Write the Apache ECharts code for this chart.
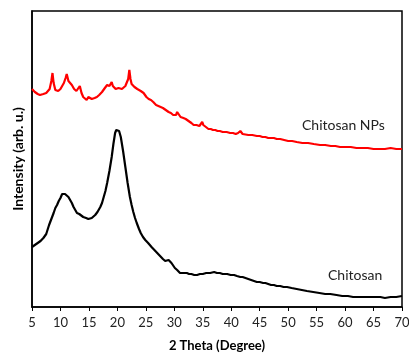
<!DOCTYPE html>
<html><head><meta charset="utf-8">
<script src="https://cdn.jsdelivr.net/npm/echarts@6/dist/echarts.min.js"></script>
<style>html,body{margin:0;padding:0;background:#fff}#c{width:409px;height:353px}</style>
</head><body><div id="c"></div>
<script>
var xTicks = [5,10,15,20,25,30,35,40,45,50,55,60,65,70];
var chitosanNPs = [[5,218],[5.3,216],[5.5,215],[5.8,217],[6,213],[6.4,212],[6.7,214],[7,213],[7.5,214],[7.8,216],[8.1,218],[8.4,226],[8.6,234],[8.8,224],[9.1,217],[9.4,219],[9.6,216],[10,218],[10.3,220],[10.6,224],[10.9,229],[11.1,233],[11.4,226],[11.6,224],[12,222],[12.4,218],[12.8,216],[13.1,217],[13.4,221],[13.7,214],[14,210],[14.3,208],[14.6,207],[14.9,210],[15.1,208],[15.5,208],[15.8,210],[16,209],[16.4,210],[16.8,212],[17.3,215],[17.8,219],[18.2,222],[18.6,221],[19,225],[19.2,221],[19.4,220],[19.7,218],[19.9,217],[20.2,219],[20.5,219],[20.8,218],[21,220],[21.4,221],[21.7,222],[21.9,228],[22.1,237],[22.3,228],[22.5,223],[22.8,222],[23,220],[23.5,218],[23.8,218],[24.1,216],[24.4,214],[24.6,214],[25.1,210],[25.5,208],[25.9,207],[26.3,205],[26.8,202],[27.2,201],[27.6,200],[28,199],[28.5,197],[29,195],[29.4,194],[29.8,192],[30.3,192],[30.5,195],[30.7,194],[31.1,190],[31.6,189],[32,188],[32.5,186],[33,184],[33.4,182],[33.9,182],[34.4,181],[34.7,182],[34.9,185],[35.1,182],[35.3,180],[36,178],[36.4,178],[36.8,177],[37.2,177],[37.6,176],[38,176],[38.5,175],[39.2,175],[39.8,174],[40.3,174],[40.8,173],[41.2,174],[41.6,176],[42,173],[42.3,172],[43,172],[43.7,172],[44.5,171],[45,171],[45.5,170],[46,170],[46.5,169],[47,169],[47.5,169],[48,168],[48.6,168],[49.3,167],[50,166],[50.7,166],[51.5,165],[52.5,164],[53.5,164],[54.5,163],[55.6,162],[56.5,162],[57.5,161],[58.3,161],[59.1,160],[60,160],[61,160],[62,159],[63.2,159],[64,159],[65,158],[65.6,158],[66.2,158],[67,158],[68,159],[69,158],[70,158]];
var chitosan = [[5,60],[5.5,62],[6,64],[6.5,66],[7,69],[7.5,73],[8,82],[8.4,88],[8.8,94],[9.1,99],[9.4,102],[9.7,106],[10,109],[10.3,113],[10.5,115],[10.8,113],[11.1,112],[11.4,110],[11.7,107],[12,104],[12.3,100],[12.6,97],[12.9,94],[13.3,93],[13.6,91],[14,90],[14.5,89],[14.9,88],[15.2,89],[15.5,89],[15.8,90],[16.1,92],[16.5,95],[17,100],[17.3,104],[17.6,110],[17.9,116],[18.2,124],[18.6,136],[19,150],[19.3,163],[19.6,174],[19.8,177],[20,179],[20.3,176],[20.6,170],[21,156],[21.4,140],[21.8,124],[22.2,110],[22.5,102],[22.8,95],[23.1,89],[23.4,84],[23.8,78],[24.1,74],[24.5,70],[24.9,67],[25.4,64],[26,60],[26.5,57],[27,54],[27.5,51],[28,48],[28.4,46],[28.7,45],[29,47],[29.3,48],[29.5,44],[29.7,42],[30.1,39],[30.5,37],[31,34],[31.5,34],[32.2,34],[32.6,33],[33,33],[33.5,32],[34,32],[34.5,33],[35,33],[35.6,34],[36.3,34],[37,35],[37.5,34],[38,34],[38.5,33],[39.3,33],[39.9,32],[40.5,32],[41,31],[41.6,30],[42,30],[42.5,29],[43,28],[43.5,27],[44,26],[44.5,25],[45,25],[45.6,24],[46,24],[46.5,23],[47,22],[47.5,22],[48,21],[48.6,21],[49.2,20],[49.8,20],[50.6,19],[51.5,18],[52.4,17],[53.3,16],[54.4,15],[55.5,14],[56.5,13],[57.4,13],[58.5,12],[59.5,11],[60.5,11],[61.4,10],[62.2,10],[63,10],[64,10],[65,10],[66.2,10],[67,9],[68,10],[69,10],[70,11]];

var chart = echarts.init(document.getElementById('c'));
chart.setOption({
  animation: false,
  grid: {left: 32, right: 7, top: 11, bottom: 46, show: true, borderColor: '#000', borderWidth: 1.5, outerBoundsMode: 'none', containLabel: false},
  xAxis: {
    type: 'value', min: 5, max: 70, interval: 5,
    name: '2 Theta (Degree)', nameLocation: 'middle', nameGap: 32,
    nameTextStyle: {fontFamily: 'Lato', fontWeight: 'bold', fontSize: 13, color: '#000'},
    axisLine: {show: true, onZero: false, lineStyle: {color: '#000', width: 1.5}},
    axisTick: {show: true, inside: false, length: 4, lineStyle: {color: '#000'}},
    axisLabel: {fontFamily: 'Lato', fontSize: 13, color: '#222', margin: 9,
      formatter: function(v){ return xTicks.indexOf(v) >= 0 ? String(v) : ''; }},
    splitLine: {show: false}
  },
  yAxis: {
    type: 'value', min: 0, max: 296,
    name: 'Intensity (arb. u.)', nameLocation: 'middle', nameGap: 7,
    nameTextStyle: {fontFamily: 'Lato', fontWeight: 'bold', fontSize: 14, color: '#000'},
    axisLine: {show: true, lineStyle: {color: '#000', width: 1.5}},
    axisTick: {show: false}, axisLabel: {show: false}, splitLine: {show: false}
  },
  series: [
    {name: 'Chitosan NPs', type: 'line', data: chitosanNPs, showSymbol: false, lineStyle: {color: '#ff0000', width: 2.2}, itemStyle: {color: '#ff0000'}},
    {name: 'Chitosan', type: 'line', data: chitosan, showSymbol: false, lineStyle: {color: '#000', width: 2.2}, itemStyle: {color: '#000'}}
  ],
  graphic: [
    {type: 'text', left: 302, top: 118, style: {text: 'Chitosan NPs', font: '14px Lato', fill: '#222'}},
    {type: 'text', left: 328, top: 268, style: {text: 'Chitosan', font: '14px Lato', fill: '#222'}}
  ]
});
</script></body></html>
